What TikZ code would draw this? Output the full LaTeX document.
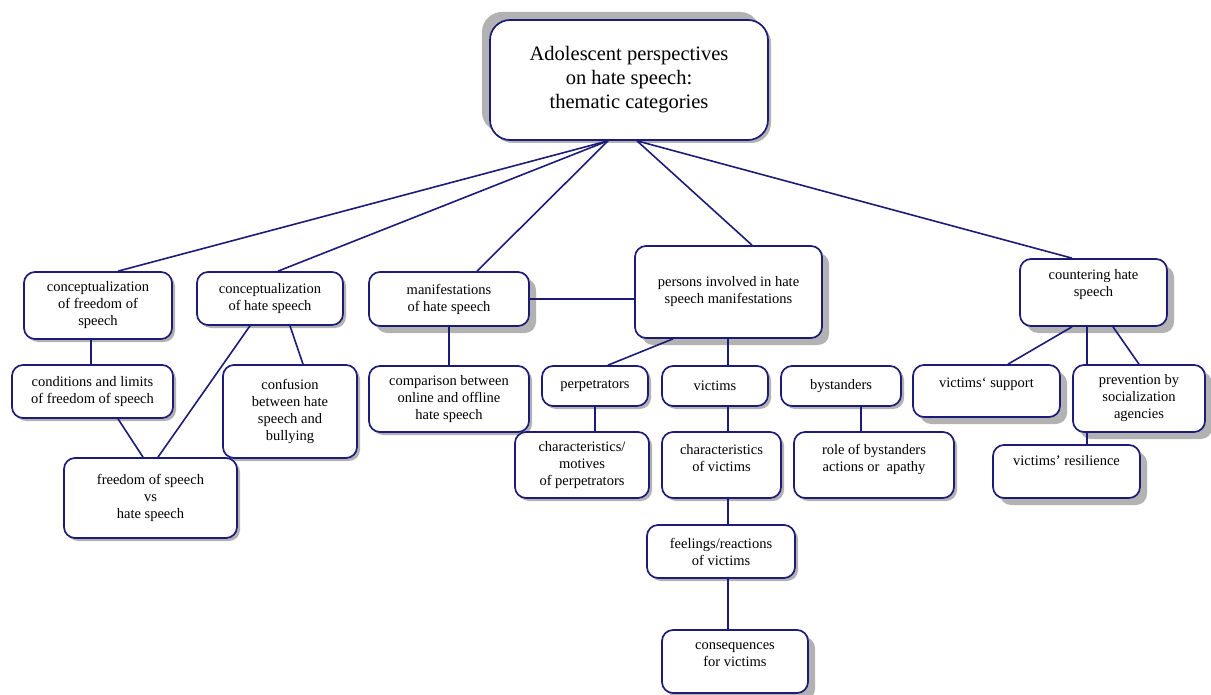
\documentclass[tikz,border=0pt]{standalone}
\usepackage{fontspec}
\setmainfont{Liberation Serif}
\usetikzlibrary{shadows}

\definecolor{cnavy}{RGB}{28,28,120}
\definecolor{cshade}{RGB}{178,178,178}
\tikzset{
  themebox/.style={draw=cnavy,line width=1.7pt,fill=white,rounded corners=11pt,
    align=center,inner sep=0pt,font=\fontsize{14.5}{17}\selectfont,
    drop shadow={shadow xshift=3pt,shadow yshift=-3pt,fill=cshade,opacity=1}},
  deepbox/.style={themebox,
    drop shadow={shadow xshift=7pt,shadow yshift=-7pt,fill=cshade,opacity=1}},
  link/.style={draw=cnavy,line width=1.6pt},
}

\begin{document}
\begin{tikzpicture}[x=1pt,y=-1pt]
  \useasboundingbox (0,0) rectangle (1211,695);
  \node[themebox,rounded corners=20pt,minimum width=278pt,minimum height=120pt,
    font=\fontsize{20.5}{24}\selectfont,
    drop shadow={shadow xshift=-8pt,shadow yshift=8pt,fill=cshade,opacity=1}]
    (root) at (629,80) {Adolescent perspectives\\on hate speech:\\thematic categories};

  % first level
  \node[themebox,minimum width=148pt,minimum height=67pt] (cfree) at (98,305.5)
    {conceptualization\\of freedom of\\speech};
  \node[themebox,minimum width=146pt,minimum height=53pt] (chate) at (270,298.5)
    {conceptualization\\of hate speech};
  \node[deepbox,minimum width=160pt,minimum height=54pt] (manif) at (449,299)
    {manifestations\\of hate speech};
  \node[deepbox,minimum width=187pt,minimum height=92pt] (pers) at (728.5,292)
    {persons involved in hate\\speech manifestations};
  \node[deepbox,minimum width=147pt,minimum height=67pt,text depth=19pt] (count) at (1093.5,292.5)
    {countering hate\\speech};

  % second level
  \node[themebox,minimum width=161pt,minimum height=53pt] (cond) at (92.5,391.5)
    {conditions and limits\\of freedom of speech};
  \node[themebox,minimum width=134pt,minimum height=93pt] (conf) at (290,411.5)
    {confusion\\between hate\\speech and\\bullying};
  \node[themebox,minimum width=173pt,minimum height=80pt] (fvs) at (150.5,498)
    {freedom of speech\\vs\\hate speech};
  \node[themebox,minimum width=160pt,minimum height=66pt] (comp) at (449,399)
    {comparison between\\online and offline\\hate speech};
  \node[themebox,minimum width=106pt,minimum height=40pt] (perp) at (595,386) {perpetrators};
  \node[themebox,minimum width=106pt,minimum height=40pt] (vict) at (715,386) {victims};
  \node[themebox,minimum width=120pt,minimum height=40pt] (byst) at (841,386) {bystanders};
  \node[themebox,minimum width=134pt,minimum height=66pt] (cmot) at (582,465)
    {characteristics/\\motives\\of perpetrators};
  \node[themebox,minimum width=119pt,minimum height=66pt,text depth=15pt] (cvict) at (721.5,465)
    {characteristics\\of victims};
  \node[themebox,minimum width=160pt,minimum height=66pt,text depth=15pt] (role) at (874,465)
    {role of bystanders\\actions or\ \ apathy};
  \node[themebox,minimum width=148pt,minimum height=53pt] (feel) at (721,551.5)
    {feelings/reactions\\of victims};
  \node[deepbox,minimum width=146pt,minimum height=63pt,text depth=14pt] (cons) at (735,661.5)
    {consequences\\for victims};
  \node[deepbox,minimum width=147pt,minimum height=52pt,text depth=17pt] (vsup) at (986.5,391)
    {victims{\char96} support};
  \node[deepbox,minimum width=132pt,minimum height=67pt] (prev) at (1139,398.5)
    {prevention by\\socialization\\agencies};
  \node[deepbox,minimum width=147pt,minimum height=53pt,text depth=22pt] (resil) at (1066.5,471.5)
    {victims' resilience};

  \coordinate (spine) at (728,0);
  \coordinate (rline) at ([xshift=-6.5pt]count.south);

  \draw[link] ([xshift=-21pt]root.south) -- ([xshift=20pt]cfree.north);
  \draw[link] ([xshift=-21pt]root.south) -- ([xshift=8pt]chate.north);
  \draw[link] ([xshift=-21pt]root.south) -- ([xshift=28pt]manif.north);
  \draw[link] ([xshift=8pt]root.south) -- ([xshift=23.5pt]pers.north);
  \draw[link] ([xshift=8pt]root.south) -- ([xshift=-21.5pt]count.north);

  \draw[link] ([xshift=-7pt]cfree.south) -- ([xshift=-1.5pt]cond.north);
  \draw[link] ([xshift=25.5pt]cond.south) -- ([xshift=-7.5pt]fvs.north);
  \draw[link] ([xshift=-20pt]chate.south) -- ([xshift=7.5pt]fvs.north);
  \draw[link] ([xshift=20pt]chate.south) -- ([xshift=13pt]conf.north);
  \draw[link] (manif.south) -- (comp.north);
  \draw[link] (manif.east) -- (manif.east -| pers.west);

  \draw[link] ([xshift=-55.5pt]pers.south) -- ([xshift=13pt]perp.north);
  \draw[link] (pers.south -| spine) -- (vict.north -| spine);
  \draw[link] (vict.south -| spine) -- (cvict.north -| spine);
  \draw[link] (cvict.south -| spine) -- (feel.north -| spine);
  \draw[link] (feel.south -| spine) -- (cons.north -| spine);
  \draw[link] (perp.south) -- (cmot.north -| perp.south);
  \draw[link] ([xshift=20pt]byst.south) -- ([xshift=-13pt]role.north);

  \draw[link] ([xshift=-21.5pt]count.south) -- ([xshift=21.5pt]vsup.north);
  \draw[link] (rline) -- (rline |- prev.north);
  \draw[link] (rline |- prev.south) -- ([xshift=20.5pt]resil.north);
  \draw[link] ([xshift=19.5pt]count.south) -- (prev.north);
\end{tikzpicture}
\end{document}
